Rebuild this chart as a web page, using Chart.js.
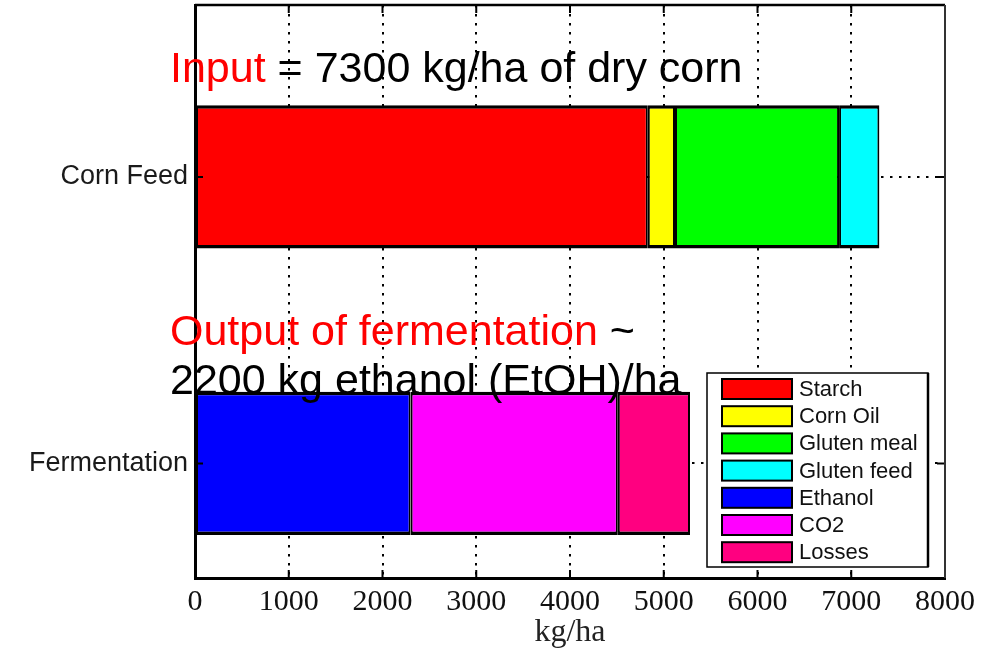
<!DOCTYPE html>
<html>
<head>
<meta charset="utf-8">
<script src="https://cdn.jsdelivr.net/npm/chart.js@4.4.0/dist/chart.umd.min.js"></script>
<style>
  body { margin: 0; background: #fff; }
  canvas { display: block; }
</style>
</head>
<body>
<canvas id="massChart" width="1000" height="652"></canvas>
<script>
const categories = ['Corn Feed', 'Fermentation'];
const components = ['Starch', 'Corn Oil', 'Gluten meal', 'Gluten feed', 'Ethanol', 'CO2', 'Losses'];
// kg/ha
const cornFeed = [4830, 290, 1750, 430];      // Starch, Corn Oil, Gluten meal, Gluten feed
const fermentation = [2300, 2210, 770];       // Ethanol, CO2, Losses
const colours = ['#ff0000', '#ffff00', '#00ff00', '#00ffff', '#0000ff', '#ff00ff', '#ff0080'];
const xTicks = [0, 1000, 2000, 3000, 4000, 5000, 6000, 7000, 8000];

const notes = [
    [['Input', '#ff0000'], [' = 7300 kg/ha of dry corn', '#000']],
    [['Output of fermentation', '#ff0000'], [' ~', '#000']],
    [['2200 kg ethanol (EtOH)/ha', '#000']]
];

const datasets = components.map((name, i) => {
    const onCorn = i < cornFeed.length;
    return {
        label: name,
        data: [{
            x: onCorn ? cornFeed[i] : fermentation[i - cornFeed.length],
            y: categories.indexOf(onCorn ? 'Corn Feed' : 'Fermentation') + 1
        }],
        backgroundColor: colours[i],
        borderColor: '#000',
        borderWidth: { top: 3.5, bottom: 3.5, left: 2, right: 2 },
        borderSkipped: false,
        categoryPercentage: 0.5,
        barPercentage: 1
    };
});

// frame, inward tick marks, legend box and the slide text
const decorations = {
    id: 'decorations',
    afterDraw(chart) {
        const ctx = chart.ctx;
        const a = chart.chartArea;
        const xs = chart.scales.x, ys = chart.scales.y;
        ctx.save();

        // inward ticks
        ctx.strokeStyle = '#000';
        ctx.lineWidth = 2;
        ctx.beginPath();
        xTicks.forEach(v => {
            const px = xs.getPixelForValue(v);
            ctx.moveTo(px, a.bottom); ctx.lineTo(px, a.bottom - 8);
            ctx.moveTo(px, a.top); ctx.lineTo(px, a.top + 8);
        });
        categories.forEach((c, i) => {
            const py = ys.getPixelForValue(i + 1);
            ctx.moveTo(a.left, py); ctx.lineTo(a.left + 8, py);
            ctx.moveTo(a.right, py); ctx.lineTo(a.right - 8, py);
        });
        ctx.stroke();

        // top and right frame
        ctx.lineWidth = 2.5;
        ctx.beginPath();
        ctx.moveTo(a.left, a.top); ctx.lineTo(a.right, a.top);
        ctx.stroke();
        ctx.strokeStyle = '#333';
        ctx.lineWidth = 2;
        ctx.beginPath();
        ctx.moveTo(a.right, a.top); ctx.lineTo(a.right, a.bottom);
        ctx.stroke();

        // legend in the lower right corner
        const lw = 221, lh = 194;
        const lx = a.right - 17 - lw, ly = a.bottom - 11 - lh;
        ctx.fillStyle = '#fff';
        ctx.fillRect(lx, ly, lw, lh);
        ctx.strokeStyle = '#000';
        ctx.lineWidth = 1.5;
        ctx.strokeRect(lx, ly, lw, lh);
        ctx.lineWidth = 2.5;
        ctx.beginPath();
        ctx.moveTo(lx + lw, ly); ctx.lineTo(lx + lw, ly + lh);
        ctx.stroke();
        ctx.font = '22px "Liberation Sans", Arial, sans-serif';
        ctx.textBaseline = 'middle';
        ctx.textAlign = 'left';
        chart.data.datasets.forEach((ds, i) => {
            const cy = ly + 16 + i * 27.2;
            ctx.fillStyle = ds.backgroundColor;
            ctx.fillRect(lx + 15, cy - 10, 70, 20);
            ctx.strokeStyle = '#000';
            ctx.lineWidth = 2;
            ctx.strokeRect(lx + 15, cy - 10, 70, 20);
            ctx.fillStyle = '#111';
            ctx.fillText(ds.label, lx + 92, cy + 1);
        });

        // slide annotations
        ctx.font = '43px "Liberation Sans", Arial, sans-serif';
        ctx.textBaseline = 'alphabetic';
        const baselines = [82, 345, 394];
        notes.forEach((line, i) => {
            let x = 170;
            line.forEach(([txt, col]) => {
                ctx.fillStyle = col;
                ctx.fillText(txt, x, baselines[i]);
                x += ctx.measureText(txt).width;
            });
        });
        ctx.restore();
    }
};

new Chart(document.getElementById('massChart').getContext('2d'), {
    type: 'bar',
    data: { datasets },
    options: {
        indexAxis: 'y',
        responsive: false,
        animation: false,
        devicePixelRatio: 1,
        layout: { padding: { left: 0, right: 55, top: 5, bottom: 0 } },
        plugins: {
            legend: { display: false },
            tooltip: { enabled: false }
        },
        scales: {
            x: {
                type: 'linear',
                stacked: true,
                min: 0,
                max: 8000,
                afterBuildTicks: scale => { scale.ticks = xTicks.map(v => ({ value: v })); },
                afterFit: scale => { scale.height = 74; },
                grid: { color: '#000', lineWidth: 2, drawTicks: false },
                border: { color: '#000', width: 3, dash: [2.5, 6.5] },
                ticks: {
                    padding: 6,
                    color: '#111',
                    font: { family: '"Liberation Serif", "Times New Roman", serif', size: 30 },
                    callback: v => String(v)
                },
                title: {
                    display: true,
                    text: 'kg/ha',
                    color: '#222',
                    padding: { top: 0, bottom: 0 },
                    font: { family: '"Liberation Serif", "Times New Roman", serif', size: 32 }
                }
            },
            y: {
                type: 'linear',
                stacked: true,
                reverse: true,
                offset: false,
                min: 0.4,
                max: 2.4,
                afterBuildTicks: scale => { scale.ticks = categories.map((c, i) => ({ value: i + 1 })); },
                afterFit: scale => {
                    scale.width = 195;
                    scale.paddingTop = 0;
                    scale.paddingBottom = 0;
                },
                grid: { color: '#000', lineWidth: 2, drawTicks: false, offset: false },
                border: { color: '#000', width: 3, dash: [2.5, 6.5] },
                ticks: {
                    padding: 7,
                    color: '#1a1a1a',
                    font: { family: '"Liberation Sans", Arial, sans-serif', size: 27 },
                    callback: v => categories[v - 1]
                }
            }
        }
    },
    plugins: [decorations]
});
</script>
</body>
</html>
